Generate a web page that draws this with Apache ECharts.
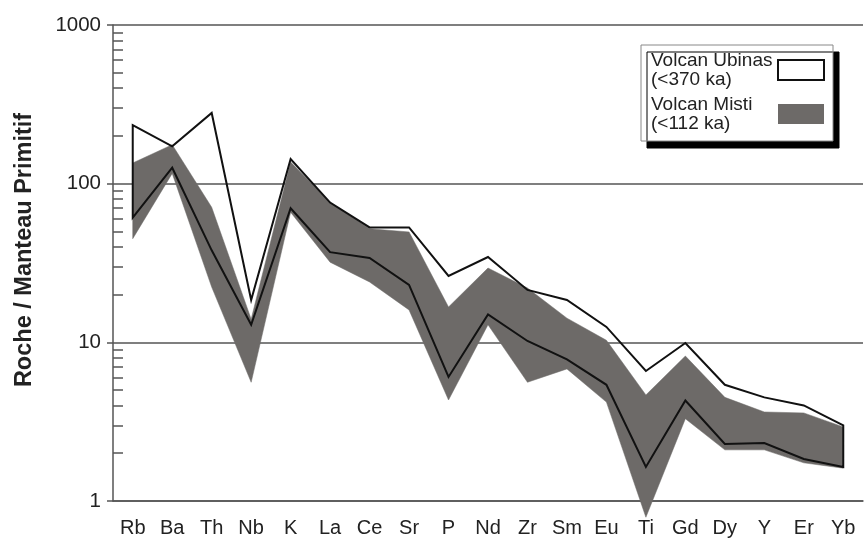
<!DOCTYPE html>
<html>
<head>
<meta charset="utf-8">
<script src="https://cdn.jsdelivr.net/npm/echarts@6/dist/echarts.min.js"></script>
<style>
  html, body { margin: 0; padding: 0; background: #fff; }
  #chart { width: 864px; height: 542px; }
</style>
</head>
<body>
<div id="chart"></div>
<script>
// elements, normalised to primitive mantle
var elements = ['Rb', 'Ba', 'Th', 'Nb', 'K', 'La', 'Ce', 'Sr', 'P', 'Nd', 'Zr', 'Sm', 'Eu', 'Ti', 'Gd', 'Dy', 'Y', 'Er', 'Yb'];

// Volcan Ubinas field (outline)
var ubinasUpper = [234, 172, 279, 18.5, 143, 76, 53, 53, 26.2, 34.5, 21.4, 18.5, 12.5, 6.6, 9.9, 5.4, 4.5, 4.0, 3.0];
var ubinasLower = [61, 126, 38, 12.9, 70, 37, 34, 23, 6.05, 15, 10.2, 7.8, 5.4, 1.64, 4.3, 2.29, 2.32, 1.84, 1.64];

// Volcan Misti field (grey)
var mistiUpper = [135, 176, 71, 14, 137, 76, 52, 49.6, 16.7, 29.4, 22, 14.2, 10.3, 4.66, 8.2, 4.5, 3.64, 3.59, 2.93];
var mistiLower = [45, 116, 22.3, 5.6, 66, 32, 24, 16, 4.33, 12.9, 5.6, 6.8, 4.2, 0.79, 3.3, 2.1, 2.1, 1.74, 1.61];

var minorTicks = [];
[1, 10, 100].forEach(function (d) {
	for (var k = 2; k <= 9; k++) minorTicks.push(k * d);
});

var FONT = '"Liberation Sans", Arial, sans-serif';

function fieldItem(upper, lower, style) {
	return function (params, api) {
		if (params.dataIndex !== 0) return;
		var pts = [];
		for (var i = 0; i < upper.length; i++) pts.push(api.coord([i, upper[i]]));
		for (var j = lower.length - 1; j >= 0; j--) pts.push(api.coord([j, lower[j]]));
		return {
			type: 'polygon',
			shape: { points: pts },
			style: style
		};
	};
}

var chart = echarts.init(document.getElementById('chart'));
var option = {
	backgroundColor: '#fff',
	animation: false,
	textStyle: { fontFamily: FONT },
	grid: { left: 113, top: 25, width: 750, bottom: 41 },
	legend: {
		orient: 'vertical',
		left: 641,
		top: 45,
		align: 'right',
		padding: [6, 8, 8, 10],
		itemGap: 6,
		itemWidth: 46,
		itemHeight: 20,
		backgroundColor: '#fff',
		borderColor: '#888',
		borderWidth: 1,
		shadowColor: '#000',
		shadowBlur: 0,
		shadowOffsetX: 6,
		shadowOffsetY: 7,
		formatter: function (name) {
			return name.split('\n').map(function (s) { return '{t|' + s + '}'; }).join('\n');
		},
		textStyle: {
			fontFamily: FONT, fontSize: 19, lineHeight: 19, color: '#222',
			rich: { t: { width: 122, align: 'left', fontFamily: FONT, fontSize: 19, lineHeight: 19, color: '#222' } }
		},
		data: [{
			name: 'Volcan Ubinas\n(<370 ka)',
			icon: 'rect',
			itemStyle: { color: '#fff', borderColor: '#111', borderWidth: 2 }
		}, {
			name: 'Volcan Misti\n(<112 ka)',
			icon: 'rect',
			itemStyle: { color: '#6d6a68', borderWidth: 0 }
		}]
	},
	xAxis: {
		type: 'category',
		data: elements,
		boundaryGap: true,
		axisLine: { lineStyle: { color: '#555', width: 1.5 } },
		axisTick: { alignWithLabel: true, inside: true, length: 5, lineStyle: { color: '#555', width: 1.5 } },
		axisLabel: { fontFamily: FONT, fontSize: 20, color: '#222', margin: 17, interval: 0 },
		splitLine: { show: false }
	},
	yAxis: [{
		type: 'log',
		logBase: 10,
		min: 1,
		max: 1000,
		name: 'Roche / Manteau Primitif',
		nameLocation: 'middle',
		nameGap: 76,
		nameTextStyle: { fontFamily: FONT, fontSize: 23.5, fontWeight: 'bold', color: '#222', padding: [0, 0, 0, 26] },
		axisLine: { show: true, lineStyle: { color: '#555', width: 1.5 } },
		axisTick: { show: true, inside: false, length: 6, lineStyle: { color: '#555', width: 1.5 } },
		axisLabel: {
			fontFamily: FONT, fontSize: 20.5, color: '#222', margin: 12,
			formatter: function (v) { return String(Math.round(v)); }
		},
		splitLine: { show: true, lineStyle: { color: '#555', width: 1.5 } }
	}, {
		type: 'log',
		logBase: 10,
		min: 1,
		max: 1000,
		position: 'left',
		offset: 0,
		axisLine: { show: false },
		axisLabel: { show: false },
		splitLine: { show: false },
		axisTick: { show: true, inside: true, length: 10, customValues: minorTicks, lineStyle: { color: '#555', width: 1.5 } }
	}],
	series: [{
		name: 'Volcan Misti\n(<112 ka)',
		type: 'custom',
		clip: false,
		z: 2,
		itemStyle: { color: '#6d6a68' },
		renderItem: fieldItem(mistiUpper, mistiLower, { fill: '#6d6a68', stroke: '#6d6a68', lineWidth: 0.5 }),
		data: elements.map(function (e, i) { return [i, mistiLower[i], mistiUpper[i]]; })
	}, {
		name: 'Volcan Ubinas\n(<370 ka)',
		type: 'custom',
		clip: false,
		z: 3,
		itemStyle: { color: '#fff' },
		renderItem: fieldItem(ubinasUpper, ubinasLower, { fill: 'none', stroke: '#111', lineWidth: 2, lineJoin: 'miter' }),
		data: elements.map(function (e, i) { return [i, ubinasLower[i], ubinasUpper[i]]; })
	}]
};
chart.setOption(option);
window.addEventListener('resize', chart.resize);
</script>
</body>
</html>
